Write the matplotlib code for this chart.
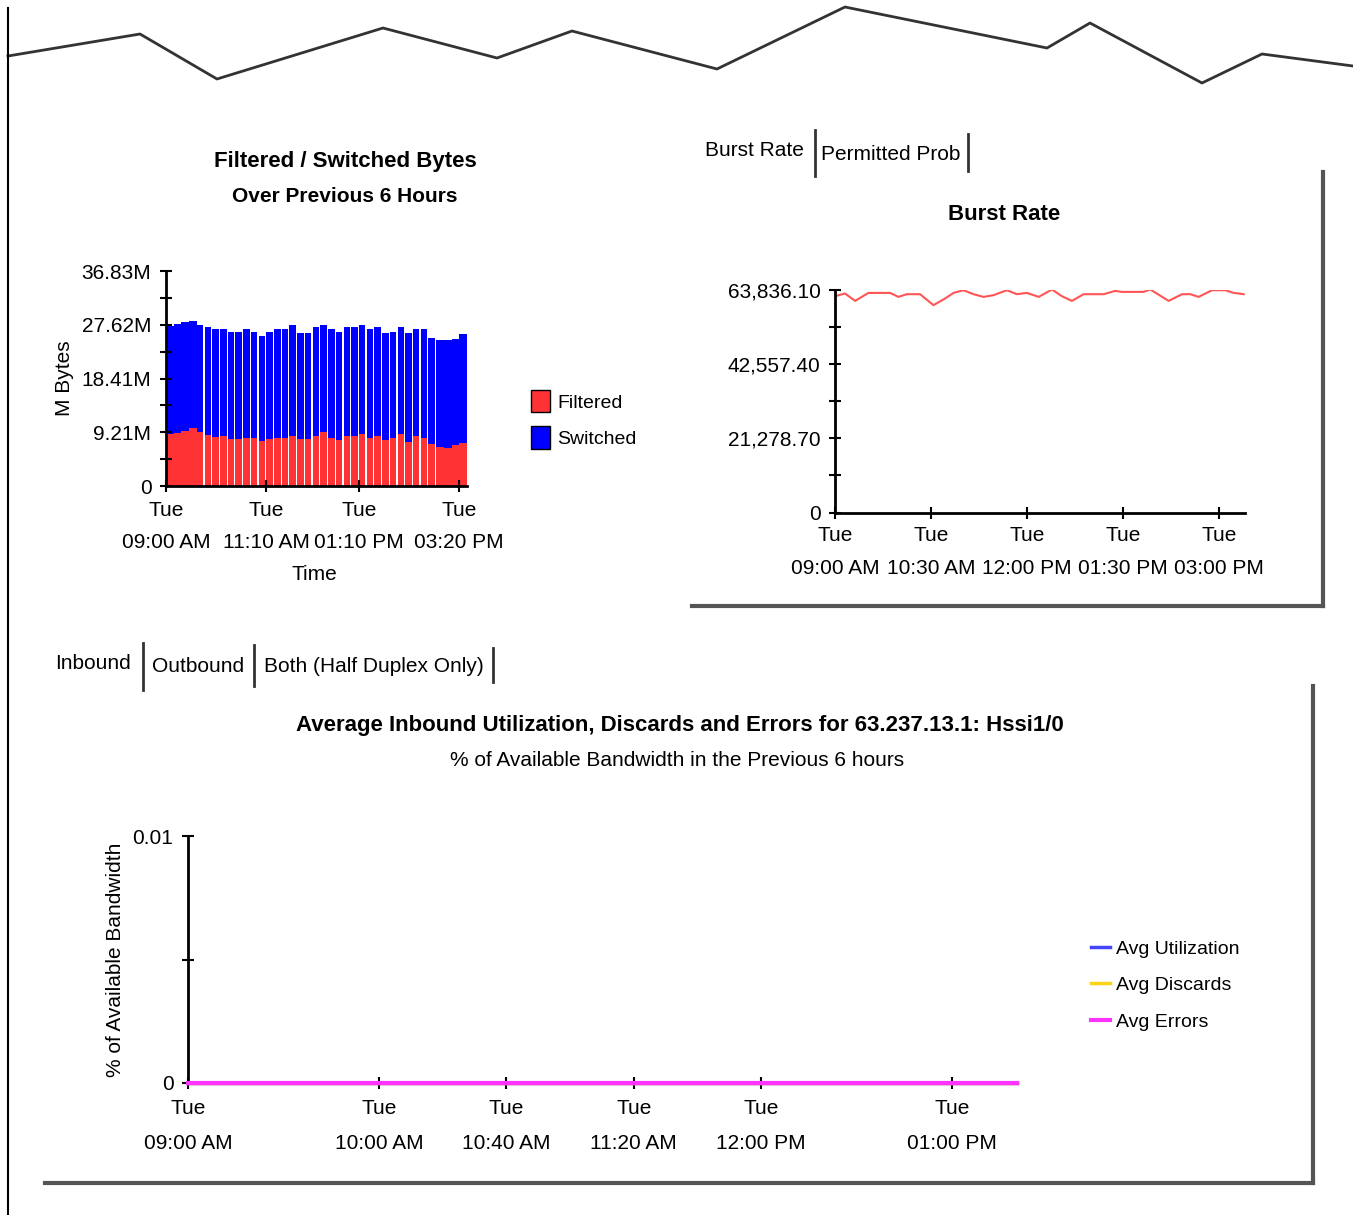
import matplotlib.pyplot as plt
import numpy as np
from matplotlib.lines import Line2D
from matplotlib.patches import Patch

plt.rcParams['font.family'] = ['Liberation Sans', 'DejaVu Sans']

W, H = 1353, 1215

# ---- Filtered / Switched bytes (10 minute buckets from Tue 09:00 AM)
bucket_start_min = list(range(0, 390, 10))
filtered_mb = [8.91, 9.14, 9.48, 9.88, 9.31, 8.74, 8.45, 8.56, 7.99, 7.99,
               8.28, 8.17, 7.71, 7.99, 8.28, 8.28, 8.56, 7.99, 7.99, 8.56,
               9.31, 8.28, 7.88, 8.56, 8.56, 8.91, 8.28, 8.56, 7.88, 8.17,
               8.91, 7.60, 8.56, 8.28, 7.14, 6.74, 6.57, 7.02, 7.42]
switched_mb = [18.55, 18.61, 18.55, 18.38, 18.27, 18.44, 18.39, 18.28, 18.45, 18.45,
               18.56, 18.27, 18.04, 18.45, 18.56, 18.56, 19.02, 18.16, 18.16, 18.62,
               18.27, 18.56, 18.56, 18.62, 18.62, 18.67, 18.56, 18.62, 18.27, 18.27,
               18.27, 18.55, 18.28, 18.56, 18.15, 18.27, 18.44, 18.16, 18.62]
bar_xticks = [0, 130, 250, 380]
bar_xlabels = ['Tue\n09:00 AM', 'Tue\n11:10 AM', 'Tue\n01:10 PM', 'Tue\n03:20 PM']
bar_yticks = [0, 9.21, 18.41, 27.62, 36.83]
bar_ylabels = ['0', '9.21M', '18.41M', '27.62M', '36.83M']

# ---- Burst rate (minutes after Tue 09:00 AM)
burst_min = [0, 9.4, 18.8, 31.3, 51.6, 59.4, 67.2, 79.7, 92.2, 103.1,
             111.0, 120.3, 129.7, 139.1, 148.4, 161.0, 170.3, 179.7, 190.8, 203.2,
             212.5, 221.9, 232.8, 251.6, 262.5, 268.8, 289.1, 295.3, 312.5, 325.0,
             332.8, 340.6, 353.1, 365.6, 373.4, 382.8]
burst_rate = [61919, 62691, 60575, 62863, 62863, 61719, 62491, 62491, 59345, 61261,
              62863, 63635, 62491, 61719, 62205, 63635, 62491, 62863, 61719, 63835,
              61919, 60575, 62491, 62491, 63435, 63149, 63149, 63835, 60575, 62491,
              62491, 61719, 63635, 63635, 62863, 62491]
burst_xticks = [0, 90, 180, 270, 360]
burst_xlabels = ['Tue\n09:00 AM', 'Tue\n10:30 AM', 'Tue\n12:00 PM', 'Tue\n01:30 PM', 'Tue\n03:00 PM']
burst_yticks = [0, 21278.70, 42557.40, 63836.10]
burst_ylabels = ['0', '21,278.70', '42,557.40', '63,836.10']

# ---- Inbound utilization (all zero)
util_min = [0, 260.4]
avg_utilization = [0, 0]
avg_discards = [0, 0]
avg_errors = [0, 0]
util_xticks = [0, 60, 100, 140, 180, 240]
util_xlabels = ['Tue\n09:00 AM', 'Tue\n10:00 AM', 'Tue\n10:40 AM', 'Tue\n11:20 AM',
                'Tue\n12:00 PM', 'Tue\n01:00 PM']

fig = plt.figure(figsize=(W / 100, H / 100), dpi=100)
fig.patch.set_facecolor('white')


def add_ax(left, top, right, bottom):
    return fig.add_axes([left / W, 1 - bottom / H, (right - left) / W, (bottom - top) / H])


def fig_line(xs, ys, color='black', lw=1.5):
    fig.add_artist(Line2D([x / W for x in xs], [1 - y / H for y in ys],
                          color=color, lw=lw, transform=fig.transFigure))


def fig_text(x, y, s, **kw):
    fig.text(x / W, 1 - y / H, s, **kw)


def style_axis(ax, xpad, spacing):
    for side in ['top', 'right']:
        ax.spines[side].set_visible(False)
    for side in ['left', 'bottom']:
        ax.spines[side].set_linewidth(2)
    ax.tick_params(which='both', direction='inout', width=1.5, colors='black', labelsize=15)
    ax.tick_params(which='both', length=9)
    ax.tick_params(axis='x', pad=xpad)
    ax.tick_params(axis='y', pad=6)
    ax.set_facecolor('white')
    for lab in ax.get_xticklabels():
        lab.set_linespacing(spacing)


# page edge: torn top border and left border
edge_x = [8, 140, 217, 383, 497, 572, 717, 845, 1047, 1090, 1202, 1262, 1353]
edge_y = [56, 34, 79, 28, 58, 31, 69, 7, 48, 23, 83, 54, 66]
fig_line(edge_x, edge_y, color='#333333', lw=2)
fig_line([8, 8], [8, 1215], color='black', lw=1.5)

# ================= Filtered / Switched Bytes =================
ax1 = add_ax(166, 271, 467, 486)
widths = [10 if (i < 4 or i > 34) else 8.4 for i in range(len(bucket_start_min))]
ax1.bar(bucket_start_min, filtered_mb, width=widths, align='edge', color='#FF3333', lw=0)
ax1.bar(bucket_start_min, switched_mb, width=widths, align='edge', bottom=filtered_mb,
        color='#0000FF', lw=0)
ax1.set_xlim(0, 390)
ax1.set_ylim(0, 36.83)
ax1.set_yticks(bar_yticks)
ax1.set_yticklabels(bar_ylabels)
ax1.set_yticks([4.6, 13.81, 23.02, 32.22], minor=True)
ax1.set_xticks(bar_xticks)
ax1.set_xticklabels(bar_xlabels)
style_axis(ax1, xpad=6.3, spacing=1.9)
ax1.set_ylabel('M Bytes', fontsize=15)
ax1.yaxis.set_label_coords((74 - 166) / 301, 0.5)

fig_text(345, 161, 'Filtered / Switched Bytes', fontsize=16, weight='bold', ha='center', va='center')
fig_text(345, 196, 'Over Previous 6 Hours', fontsize=15, weight='bold', ha='center', va='center')
fig_text(314, 574, 'Time', fontsize=15, ha='center', va='center')

ax1.legend(handles=[Patch(facecolor='#FF3333', edgecolor='black', label='Filtered'),
                    Patch(facecolor='#0000FF', edgecolor='black', label='Switched')],
           loc='upper left', bbox_to_anchor=(531 / W, 1 - 390 / H),
           bbox_transform=fig.transFigure, frameon=False, fontsize=14,
           handlelength=1.0, handleheight=1.4, handletextpad=0.35,
           labelspacing=0.7, borderpad=0, borderaxespad=0)

# ================= Burst Rate =================
fig_text(754, 150, 'Burst Rate', fontsize=15, ha='center', va='center')
fig_text(891, 154, 'Permitted Prob', fontsize=15, ha='center', va='center')
fig_line([815, 815], [130, 176], color='#333333', lw=2)
fig_line([968, 968], [134, 171], color='#333333', lw=2)
fig_line([1323, 1323], [172, 606], color='#555555', lw=3)
fig_line([692, 1323], [606, 606], color='#555555', lw=3)

ax2 = add_ax(835, 289.5, 1245, 512.5)
ax2.plot(burst_min, burst_rate, color='#FF5555', lw=1.5)
ax2.set_xlim(0, 384)
ax2.set_ylim(0, 63836.10)
ax2.set_yticks(burst_yticks)
ax2.set_yticklabels(burst_ylabels)
ax2.set_yticks([10639.35, 31918.05, 53196.75], minor=True)
ax2.set_xticks(burst_xticks)
ax2.set_xticklabels(burst_xlabels)
style_axis(ax2, xpad=5.0, spacing=1.95)
fig_text(1004, 214, 'Burst Rate', fontsize=16, weight='bold', ha='center', va='center')

# ================= Inbound Utilization =================
fig_text(93, 663, 'Inbound', fontsize=15, ha='center', va='center')
fig_text(198, 667, 'Outbound', fontsize=15, ha='center', va='center')
fig_text(374, 667, 'Both (Half Duplex Only)', fontsize=15, ha='center', va='center')
fig_line([143, 143], [643, 690], color='#333333', lw=2)
fig_line([254, 254], [645, 686], color='#333333', lw=2)
fig_line([493, 493], [648, 682], color='#333333', lw=2)
fig_line([1313, 1313], [686, 1183], color='#555555', lw=3)
fig_line([45, 1313], [1183, 1183], color='#555555', lw=3)

fig_text(680, 726, 'Average Inbound Utilization, Discards and Errors for 63.237.13.1: Hssi1/0',
         fontsize=16, weight='bold', ha='center', va='center')
fig_text(677, 760, '% of Available Bandwidth in the Previous 6 hours',
         fontsize=15, ha='center', va='center')

ax3 = add_ax(188, 836, 1017, 1083)
ax3.plot(util_min, avg_utilization, color='#4444FF', lw=2.5, label='Avg Utilization',
         zorder=3, clip_on=False)
ax3.plot(util_min, avg_discards, color='#FFD21A', lw=2.5, label='Avg Discards',
         zorder=3, clip_on=False)
ax3.plot(util_min, avg_errors, color='#FF33FF', lw=3, label='Avg Errors',
         zorder=3, clip_on=False)
ax3.set_xlim(0, 260.4)
ax3.set_ylim(0, 0.01)
ax3.set_yticks([0, 0.01])
ax3.set_yticklabels(['0', '0.01'])
ax3.set_yticks([0.005], minor=True)
ax3.set_xticks(util_xticks)
ax3.set_xticklabels(util_xlabels)
style_axis(ax3, xpad=7.0, spacing=2.05)
ax3.set_ylabel('% of Available Bandwidth', fontsize=15)
ax3.yaxis.set_label_coords((125 - 188) / 829, 0.5)
ax3.legend(loc='upper left', bbox_to_anchor=(1091 / W, 1 - 940 / H),
           bbox_transform=fig.transFigure, frameon=False, fontsize=14,
           handlelength=1.0, handletextpad=0.3, labelspacing=0.98,
           borderpad=0, borderaxespad=0)

fig.savefig('out.png', dpi=100, facecolor='white')
